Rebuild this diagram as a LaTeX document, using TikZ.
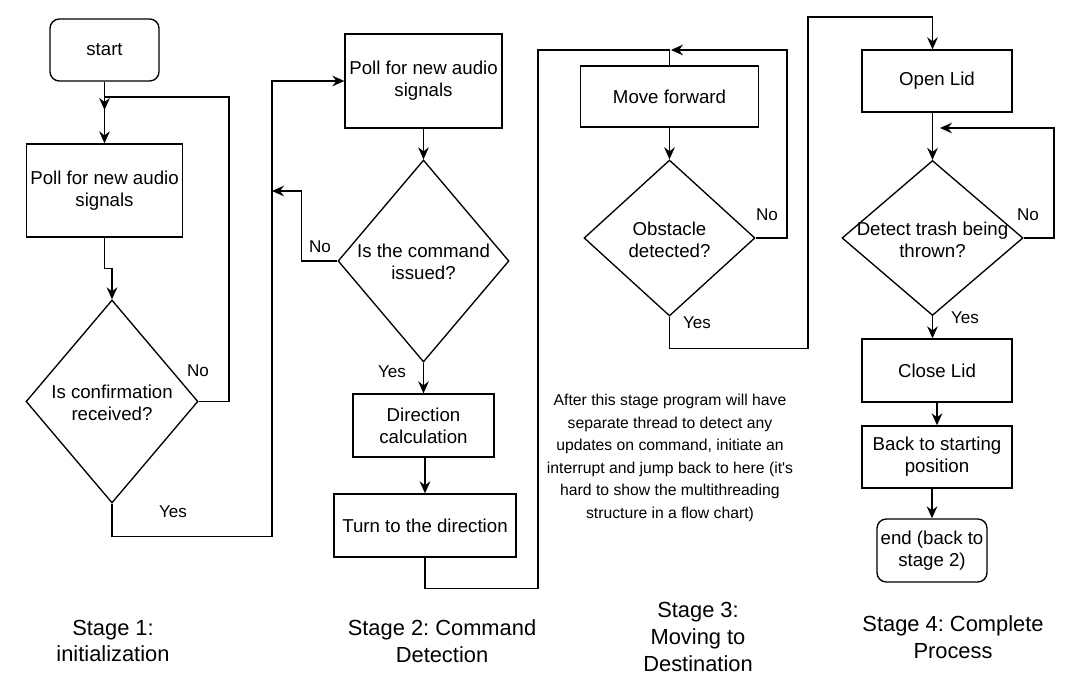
\documentclass[tikz,border=0pt]{standalone}
\usepackage{fontspec}
\setmainfont{Liberation Sans}
\usetikzlibrary{shapes.geometric,arrows.meta}
\frenchspacing

\tikzset{every picture/.style={line width=1pt}}

\begin{document}
\begin{tikzpicture}[x=0.75pt,y=0.75pt,yscale=-1,xscale=1,
	box/.style={draw, rectangle, align=center, inner sep=0pt, font=\fontsize{14}{16.5}\selectfont},
	term/.style={box, rounded corners=7pt},
	decision/.style={draw, diamond, inner sep=0pt},
	txt/.style={align=center, inner sep=0.75pt, font=\fontsize{14}{16.5}\selectfont},
	lbl/.style={inner sep=0.75pt, font=\fontsize{12.8}{15}\selectfont},
	note/.style={align=center, inner sep=0.75pt, font=\fontsize{11.8}{16.9}\selectfont},
	stage/.style={align=center, inner sep=0.75pt, font=\fontsize{16.4}{20}\selectfont},
	arr/.style={-{Stealth[length=9pt,width=8pt,inset=3pt]}}]
\useasboundingbox (0,0) rectangle (1078,698);

		%Stage 1
		\node[term, minimum width=81.75pt, minimum height=46.5pt] (start) at (104.5,50) {start};
		\node[box, minimum width=117pt, minimum height=69.75pt] (poll1) at (104.5,190.5) {Poll for new audio\\signals};
		\node[decision, minimum width=129pt, minimum height=152.25pt] (dia1) at (112,401.5) {};
		\node[txt] (dia1t) at (112,403) {Is confirmation\\received?};

		%Stage 2
		\node[box, minimum width=117.75pt, minimum height=70.5pt] (poll2) at (423.5,81) {Poll for new audio\\signals};
		\node[decision, minimum width=128.25pt, minimum height=151.5pt] (dia2) at (423.5,261) {};
		\node[txt] (dia2t) at (423.5,262) {Is the command\\issued?};
		\node[box, minimum width=105.75pt, minimum height=47.25pt] (dircalc) at (423.5,425.5) {Direction\\calculation};
		\node[box, minimum width=136.5pt, minimum height=47.25pt] (turn) at (425,525.5) {Turn to the direction};

		%Stage 3
		\node[box, minimum width=133.5pt, minimum height=45.75pt] (move) at (669.5,96.5) {Move forward};
		\node[decision, minimum width=128.25pt, minimum height=117pt] (dia3) at (669.5,238) {};
		\node[txt] (dia3t) at (669.5,240) {Obstacle\\detected?};

		%Stage 4
		\node[box, minimum width=112.5pt, minimum height=46.5pt] (openlid) at (937,81) {Open Lid};
		\node[decision, minimum width=135.75pt, minimum height=116.25pt] (dia4) at (932.5,238) {};
		\node[txt] (dia4t) at (932.5,240) {Detect trash being\\thrown?};
		\node[box, minimum width=112.5pt, minimum height=47.25pt] (closelid) at (937,370.5) {Close Lid};
		\node[box, minimum width=112.5pt, minimum height=46.5pt] (back) at (937,457) {Back to starting\\position};
		\node[term, minimum width=82.5pt, minimum height=47.25pt] (finish) at (932,550.5) {end (back to\\stage 2)};

		%Straight Lines
		\coordinate (m1) at (104.5,110);
		\coordinate (m2) at (272,191);
		\coordinate (m3) at (671,50);
		\coordinate (m4) at (940,128);

		\draw[arr] (start) -- (poll1);
		\draw[arr] (dia1.east) -| (229,97) -| (m1);
		\draw[arr] (poll1.south) -- ++(0,31) -| (dia1.north);
		\draw[arr] (dia1.south) -- ++(0,33) -| (272,81) -- (poll2.west);

		\draw[arr] (poll2) -- (dia2);
		\draw[arr] (dia2.west) -- ++(-36,0) |- (m2);
		\draw[arr] (dia2) -- (dircalc);
		\draw[arr] (dircalc.south -| turn.north) -- (turn.north);
		\draw (turn.south) -- ++(0,31) -| (538,50) -| (move.north);

		\draw[arr] (move) -- (dia3);
		\draw[arr] (dia3.east) -| (787,50) -- (m3);
		\draw[arr] (dia3.south) -- ++(0,32) -| (808,17) -| (dia4.north |- openlid.north);

		\draw[arr] (openlid.south -| dia4.north) -- (dia4.north);
		\draw[arr] (dia4.east) -| (1054,128) -- (m4);
		\draw[arr] (dia4.south) -- (dia4.south |- closelid.north);
		\draw[arr] (closelid) -- (back);
		\draw[arr] (back.south -| finish.north) -- (finish.north);

		% Text Node
		\node[lbl] (no1) at (198,371) {No};
		\node[lbl] (yes1) at (173,512) {Yes};
		\node[lbl] (no2) at (320,247) {No};
		\node[lbl] (yes2) at (392,372) {Yes};
		\node[lbl] (no3) at (767,215) {No};
		\node[lbl] (yes3) at (697,323) {Yes};
		\node[lbl] (no4) at (1028,215) {No};
		\node[lbl] (yes4) at (965,318) {Yes};

		% Text Node
		\node[note] (remark) at (670,458) {After this stage program will have\\separate thread to detect any\\updates on command, initiate an\\interrupt and jump back to here (it\textquotesingle s\\hard to show the multithreading\\structure in a flow chart)};

		% Text Node
		\node[stage] (stage1) at (113,641) {Stage 1:\\initialization};
		\node[stage] (stage2) at (442,641) {Stage 2: Command\\Detection};
		\node[stage] (stage3) at (698,637) {Stage 3:\\Moving to\\Destination};
		\node[stage] (stage4) at (953,637) {Stage 4: Complete\\Process};

\end{tikzpicture}
\end{document}
